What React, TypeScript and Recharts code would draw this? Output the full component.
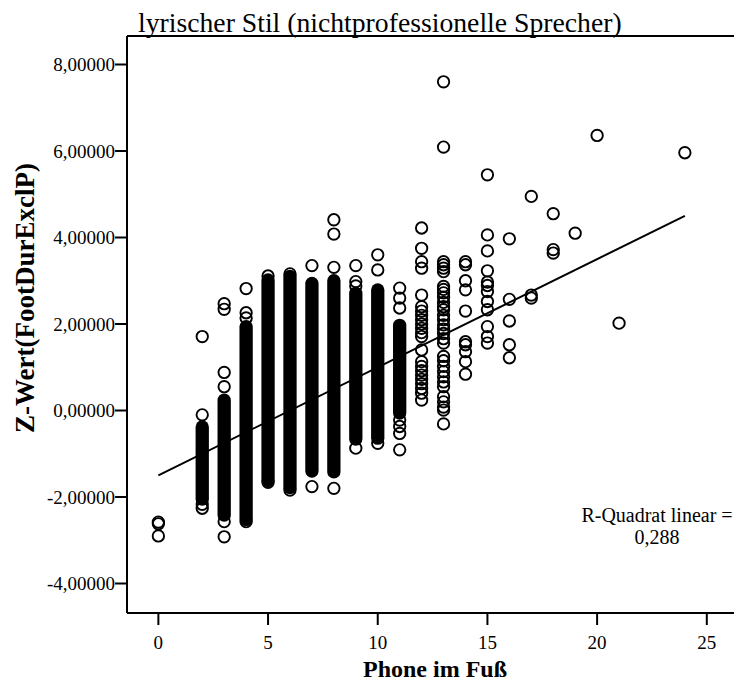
import { ScatterChart, Scatter, XAxis, YAxis, ReferenceLine } from "recharts";

const serif = "'Liberation Serif', 'Times New Roman', serif";

const xTicks = [0, 5, 10, 15, 20, 25];
const yTicks = [-4, -2, 0, 2, 4, 6, 8];
const xDomain = [-1.43, 26.24];
const yDomain = [-4.682, 8.659];

// phone counts where the circles pile up into one solid band (low / high end)
const bandX = [2, 3, 4, 5, 6, 7, 8, 9, 10, 11];
const bandLow = [-2.05, -2.42, -2.52, -1.62, -1.78, -1.40, -1.42, -0.66, -0.64, -0.06];
const bandHigh = [-0.38, 0.24, 1.94, 3.02, 3.10, 2.94, 3.00, 2.71, 2.79, 1.97];

// circles that stand apart from the bands
const z0 = [-2.58, -2.62, -2.9];
const z2 = [1.71, -0.1, -2.17, -2.26];
const z3 = [2.47, 2.34, 0.88, 0.55, -2.57, -2.92];
const z4 = [2.82, 2.26, 2.14, -2.57];
const z5 = [3.11, -1.66];
const z6 = [3.16, -1.84];
const z7 = [3.35, -1.76];
const z8 = [4.41, 4.08, 3.31, -1.8];
const z9 = [3.35, 2.98, 2.88, -0.87];
const z10 = [3.6, 3.25, -0.76];
const z11 = [2.83, 2.6, 2.37, -0.22, -0.37, -0.53, -0.91];
const z12 = [
    4.22, 3.75, 3.44, 3.29, 2.67, 2.4, 2.3, 2.2, 2.1, 2.0, 1.9, 1.8, 1.71, 1.4,
    1.13, 1.02, 0.92, 0.82, 0.72, 0.62, 0.51, 0.4, 0.24,
];
const z13 = [
    7.6, 6.09, 3.44, 3.37, 3.29, 3.21, 2.87, 2.8, 2.72, 2.62, 2.5, 2.4, 2.33,
    2.2, 2.1, 1.98, 1.88, 1.78, 1.66, 1.56, 1.25, 1.15, 1.02, 0.9, 0.78, 0.66,
    0.55, 0.32, 0.2, 0.08, 0.01, -0.31,
];
const z14 = [3.44, 3.37, 3.0, 2.79, 2.3, 1.59, 1.52, 1.36, 1.13, 0.84];
const z15 = [5.45, 4.06, 3.69, 3.23, 2.97, 2.89, 2.75, 2.52, 2.33, 1.94, 1.71, 1.56];
const z16 = [3.97, 2.57, 2.07, 1.52, 1.22];
const z17 = [4.95, 2.67, 2.6];
const z18 = [4.55, 3.72, 3.64];
const z19 = [4.1];
const z20 = [6.36];
const z21 = [2.02];
const z24 = [5.96];

// linear fit
const fitX = [0, 24];
const fitY = [-1.5, 4.5];
const rSquared = 0.288;

const columns: [number, number[]][] = [
    [0, z0], [2, z2], [3, z3], [4, z4], [5, z5], [6, z6], [7, z7], [8, z8],
    [9, z9], [10, z10], [11, z11], [12, z12], [13, z13], [14, z14], [15, z15],
    [16, z16], [17, z17], [18, z18], [19, z19], [20, z20], [21, z21], [24, z24],
];
const points = columns.flatMap(([x, ys]) => ys.map((y) => ({ x, y })));

const fmtDe = (v: number, digits: number) => v.toFixed(digits).replace(".", ",");

const Ring = (props: any) => (
    <circle cx={props.cx} cy={props.cy} r={5.7} fill="none" stroke="#000" strokeWidth={1.9} />
);

const axisLine = { stroke: "#000", strokeWidth: 2 };
const tickStyle = { fill: "#000", fontSize: 19, fontFamily: serif };

export default function App() {
    return (
        <div style={{ position: "absolute", left: 0, top: 0, width: 734, height: 681, background: "#fff", overflow: "hidden" }}>
            <ScatterChart width={734} height={681} margin={{ top: 36, right: 0, bottom: 0, left: 0 }}>
                <XAxis
                    type="number"
                    dataKey="x"
                    domain={xDomain}
                    ticks={xTicks}
                    allowDataOverflow
                    height={68}
                    tickSize={12}
                    tickMargin={11}
                    axisLine={axisLine}
                    tickLine={axisLine}
                    tick={tickStyle}
                />
                <YAxis
                    type="number"
                    dataKey="y"
                    domain={yDomain}
                    ticks={yTicks}
                    allowDataOverflow
                    width={127}
                    tickSize={12}
                    tickMargin={0}
                    axisLine={axisLine}
                    tickLine={axisLine}
                    tick={tickStyle}
                    tickFormatter={(v: number) => fmtDe(v, 5)}
                />
                {/* top frame line */}
                <ReferenceLine y={yDomain[1]} stroke="#000" strokeWidth={2} ifOverflow="visible" />
                {bandX.map((x, i) => (
                    <ReferenceLine
                        key={x}
                        segment={[{ x, y: bandLow[i] }, { x, y: bandHigh[i] }]}
                        stroke="#000"
                        strokeWidth={13.3}
                        strokeLinecap="round"
                        ifOverflow="visible"
                    />
                ))}
                <Scatter data={points} shape={Ring} isAnimationActive={false} />
                <ReferenceLine
                    segment={[{ x: fitX[0], y: fitY[0] }, { x: fitX[1], y: fitY[1] }]}
                    stroke="#000"
                    strokeWidth={2}
                />
            </ScatterChart>

            <div style={{ position: "absolute", left: 138, top: 9, fontFamily: serif, fontSize: 27.7, lineHeight: 1, whiteSpace: "nowrap" }}>
                lyrischer Stil (nichtprofessionelle Sprecher)
            </div>
            <div
                style={{
                    position: "absolute",
                    left: 25,
                    top: 298,
                    transform: "translate(-50%, -50%) rotate(-90deg)",
                    fontFamily: serif,
                    fontWeight: "bold",
                    fontSize: 27,
                    lineHeight: 1,
                    whiteSpace: "nowrap",
                }}
            >
                Z-Wert(FootDurExclP)
            </div>
            <div
                style={{
                    position: "absolute",
                    left: 285,
                    width: 300,
                    top: 657,
                    textAlign: "center",
                    fontFamily: serif,
                    fontWeight: "bold",
                    fontSize: 24,
                    lineHeight: "24px",
                    whiteSpace: "nowrap",
                }}
            >
                Phone im Fuß
            </div>
            <div
                style={{
                    position: "absolute",
                    left: 557,
                    width: 200,
                    top: 504,
                    textAlign: "center",
                    fontFamily: serif,
                    fontSize: 20,
                    lineHeight: "22px",
                    whiteSpace: "nowrap",
                }}
            >
                R-Quadrat linear =
                <br />
                {fmtDe(rSquared, 3)}
            </div>
        </div>
    );
}
